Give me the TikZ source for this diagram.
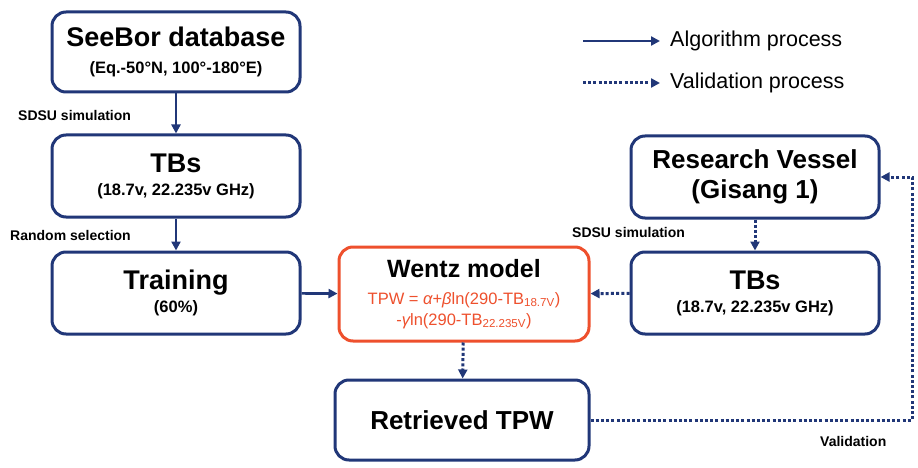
\documentclass[tikz,border=0pt]{standalone}
\usepackage{fontspec}
\setmainfont{Liberation Sans}
\usetikzlibrary{arrows.meta,calc}
\definecolor{navy}{RGB}{33,55,120}
\definecolor{wentzred}{RGB}{238,80,45}
\tikzset{
  flowbox/.style={draw=navy, line width=3pt, rounded corners=14pt, fill=white,
    align=center, inner sep=2pt, minimum width=248pt, minimum height=82pt,
    font=\bfseries\fontsize{27}{30}\selectfont},
  algo/.style={draw=navy, line width=2.6pt, -{Triangle[length=9pt,width=9pt]}},
  valid/.style={draw=navy, line width=3pt, dash pattern=on 3pt off 2.2pt,
    -{Triangle[length=9pt,width=9pt]}},
  steplabel/.style={font=\bfseries\fontsize{14}{16}\selectfont, anchor=west, inner sep=0pt},
  legendtext/.style={font=\fontsize{21.5}{24}\selectfont, anchor=west, inner sep=0pt}
}
\newcommand{\boxsub}{\bfseries\fontsize{16.5}{19}\selectfont}
\newcommand{\wentzfont}{\color{wentzred}\mdseries\fontsize{16.5}{21}\selectfont}
\begin{document}
\begin{tikzpicture}[x=1pt,y=-1pt]
  \useasboundingbox (0,0) rectangle (918,468);

  % main boxes
  \node[flowbox, minimum height=80pt] (seebor) at (176,52)
    {SeeBor database\\[-3pt]{\boxsub (Eq.-50°N, 100°-180°E)}};
  \node[flowbox] (tbsA) at (176,176)
    {TBs\\[-7pt]{\boxsub (18.7v, 22.235v GHz)}};
  \node[flowbox] (train) at (176,293)
    {Training\\[-7pt]{\boxsub (60\%)}};
  \node[flowbox, draw=wentzred, minimum width=250pt, minimum height=94pt,
        font=\fontsize{16.5}{21}\selectfont] (wentz) at (464,294)
    {{\bfseries\fontsize{25}{28}\selectfont Wentz model}\\[6pt]
     {\wentzfont TPW = {\itshape α}+{\itshape β}ln(290-TB\textsubscript{18.7V})}\\
     {\wentzfont -{\itshape γ}ln(290-TB\textsubscript{22.235V})}};
  \node[flowbox] (tbsB) at (755,293)
    {TBs\\[-7pt]{\boxsub (18.7v, 22.235v GHz)}};
  \node[flowbox, font=\bfseries\fontsize{26}{30}\selectfont] (vessel) at (755,177)
    {Research Vessel\\(Gisang 1)};
  \node[flowbox, minimum width=254pt, minimum height=80pt,
        font=\bfseries\fontsize{26}{30}\selectfont] (ret) at (462,420)
    {Retrieved TPW};

  % algorithm flow
  \draw[algo] (seebor) -- (tbsA);
  \draw[algo] (tbsA) -- (train);
  \draw[algo] (train) -- (wentz);

  % validation flow
  \draw[valid] (vessel) -- (tbsB);
  \draw[valid] (tbsB) -- (wentz);
  \draw[valid] (wentz) -- (ret);
  \coordinate (vrail) at (912,0);
  \draw[valid] (ret.east) -- (ret.east -| vrail) -- (vessel.east -| vrail) -- (vessel.east);

  % step labels
  \node[steplabel] (lsim) at (18,115) {SDSU simulation};
  \node[steplabel] (lrand) at (10,235) {Random selection};
  \node[steplabel] (lsimB) at (572,232) {SDSU simulation};
  \node[steplabel] (lval) at (820,441) {Validation};

  % legend
  \coordinate (la1) at (583,41);
  \coordinate (la2) at (660,41);
  \coordinate (lb1) at (583,83);
  \coordinate (lb2) at (660,83);
  \draw[algo] (la1) -- (la2);
  \draw[valid] (lb1) -- (lb2);
  \node[legendtext] (ltA) at (670,41) {Algorithm process};
  \node[legendtext] (ltB) at (670,83) {Validation process};
\end{tikzpicture}
\end{document}
